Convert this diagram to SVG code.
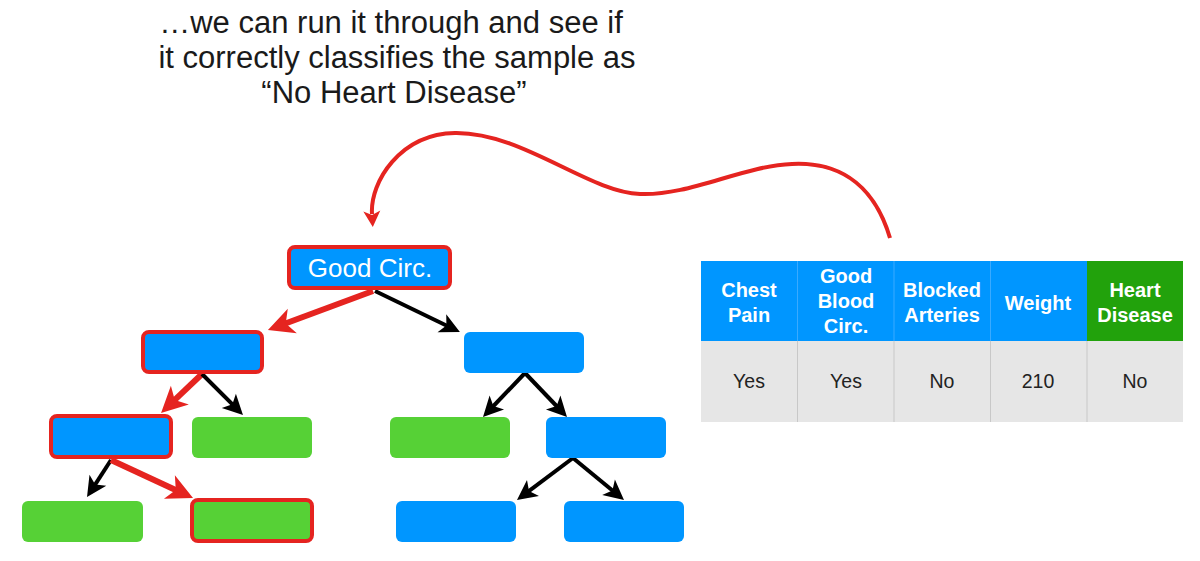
<svg xmlns="http://www.w3.org/2000/svg" width="1200" height="561" viewBox="0 0 1200 561">
<style>
.title{font-family:"Liberation Sans",Arial,sans-serif;font-size:31px;fill:#1a1a1a;text-anchor:middle}
.nodelbl{font-family:"Liberation Sans",Arial,sans-serif;font-size:26px;fill:#fff;text-anchor:middle}
.th{font-family:"Liberation Sans",Arial,sans-serif;font-size:20px;font-weight:bold;fill:#fff;text-anchor:middle}
.td{font-family:"Liberation Sans",Arial,sans-serif;font-size:19.5px;fill:#222;text-anchor:middle}
.blue{fill:#0096FF}
.green{fill:#56D136}
.sel{stroke:#E52420;stroke-width:4}
.red{stroke:#E52420;stroke-width:6;fill:none;marker-end:url(#ahR)}
.blk{stroke:#000;stroke-width:4;fill:none;marker-end:url(#ahK)}
</style>
<defs>
<marker id="ahR" markerUnits="userSpaceOnUse" orient="auto" overflow="visible" markerWidth="1" markerHeight="1" refX="0" refY="0"><path d="M15,0 L-11,-13 L-4,0 L-11,13 Z" fill="#E52420"/></marker>
<marker id="ahK" markerUnits="userSpaceOnUse" orient="auto" overflow="visible" markerWidth="1" markerHeight="1" refX="0" refY="0"><path d="M11,0 L-9,-10 L-4,0 L-9,10 Z" fill="#000"/></marker>
<marker id="ahC" markerUnits="userSpaceOnUse" orient="auto" overflow="visible" markerWidth="1" markerHeight="1" refX="0" refY="0"><path d="M13,0 L-3,-8.5 L1,0 L-3,8.5 Z" fill="#E52420"/></marker>
</defs>
<rect width="1200" height="561" fill="#fff"/>
<g id="title">
<text class="title" x="391" y="33">…we can run it through and see if</text>
<text class="title" x="397" y="68">it correctly classifies the sample as</text>
<text class="title" x="394" y="103">“No Heart Disease”</text>
</g>
<g id="connectors">
<path d="M890,238 C872,178 832,162 792,164 C742,166 690,196 640,194 C588,192 522,132 455,133 C400,134 370,182 372,214" stroke="#E52420" stroke-width="4" fill="none" marker-end="url(#ahC)"/>
<line class="red" x1="373" y1="291" x2="282" y2="324.8"/>
<line class="blk" x1="375" y1="291" x2="450" y2="327.2"/>
<line class="red" x1="202" y1="374" x2="171.9" y2="402.7"/>
<line class="blk" x1="202" y1="374" x2="235.2" y2="407.2"/>
<line class="blk" x1="111" y1="460" x2="93" y2="487.8"/>
<line class="red" x1="111" y1="460" x2="179.4" y2="491.7"/>
<line class="blk" x1="525" y1="373" x2="490.6" y2="409"/>
<line class="blk" x1="525" y1="373" x2="559.4" y2="409"/>
<line class="blk" x1="573" y1="458" x2="525.8" y2="493.4"/>
<line class="blk" x1="573" y1="458" x2="615.5" y2="493"/>
</g>
<g id="root"><rect class="blue sel" x="289" y="247" width="161" height="41" rx="6"/><text class="nodelbl" x="370" y="277">Good Circ.</text></g>
<g id="n-l1"><rect class="blue sel" x="143" y="332" width="119" height="40" rx="6"/></g>
<g id="n-r1"><rect class="blue" x="464" y="332" width="120" height="41" rx="6"/></g>
<g id="n-l2"><rect class="blue sel" x="51" y="416" width="120" height="41" rx="6"/></g>
<g id="n-l1-leaf"><rect class="green" x="192" y="417" width="120" height="41" rx="6"/></g>
<g id="n-r1-leaf"><rect class="green" x="390" y="417" width="120" height="41" rx="6"/></g>
<g id="n-r2"><rect class="blue" x="546" y="417" width="120" height="41" rx="6"/></g>
<g id="n-l3-left"><rect class="green" x="22" y="501" width="121" height="41" rx="6"/></g>
<g id="n-l3-right"><rect class="green sel" x="192" y="500" width="120" height="41" rx="6"/></g>
<g id="n-r3-left"><rect class="blue" x="396" y="501" width="120" height="41" rx="6"/></g>
<g id="n-r3-right"><rect class="blue" x="564" y="501" width="120" height="41" rx="6"/></g>
<g id="table">
<rect x="701" y="261" width="386" height="80" fill="#0096FF"/>
<rect x="1087" y="261" width="96" height="80" fill="#22A20C"/>
<rect x="701" y="341" width="482" height="81" fill="#E6E6E6"/>
<g stroke="#3AAAFF" stroke-width="1"><line x1="797.5" y1="261" x2="797.5" y2="341"/><line x1="894" y1="261" x2="894" y2="341"/><line x1="990.5" y1="261" x2="990.5" y2="341"/></g>
<g stroke="#C8C8C8" stroke-width="1"><line x1="797.5" y1="341" x2="797.5" y2="422"/><line x1="894" y1="341" x2="894" y2="422"/><line x1="990.5" y1="341" x2="990.5" y2="422"/><line x1="1087" y1="341" x2="1087" y2="422"/></g>
<text class="th" x="749" y="297">Chest</text><text class="th" x="749" y="322">Pain</text>
<text class="th" x="846" y="283">Good</text><text class="th" x="846" y="308">Blood</text><text class="th" x="846" y="333">Circ.</text>
<text class="th" x="942" y="297">Blocked</text><text class="th" x="942" y="322">Arteries</text>
<text class="th" x="1038" y="310">Weight</text>
<text class="th" x="1135" y="297">Heart</text><text class="th" x="1135" y="322">Disease</text>
<text class="td" x="749" y="388">Yes</text><text class="td" x="846" y="388">Yes</text><text class="td" x="942" y="388">No</text><text class="td" x="1038" y="388">210</text><text class="td" x="1135" y="388">No</text>
</g>
</svg>
